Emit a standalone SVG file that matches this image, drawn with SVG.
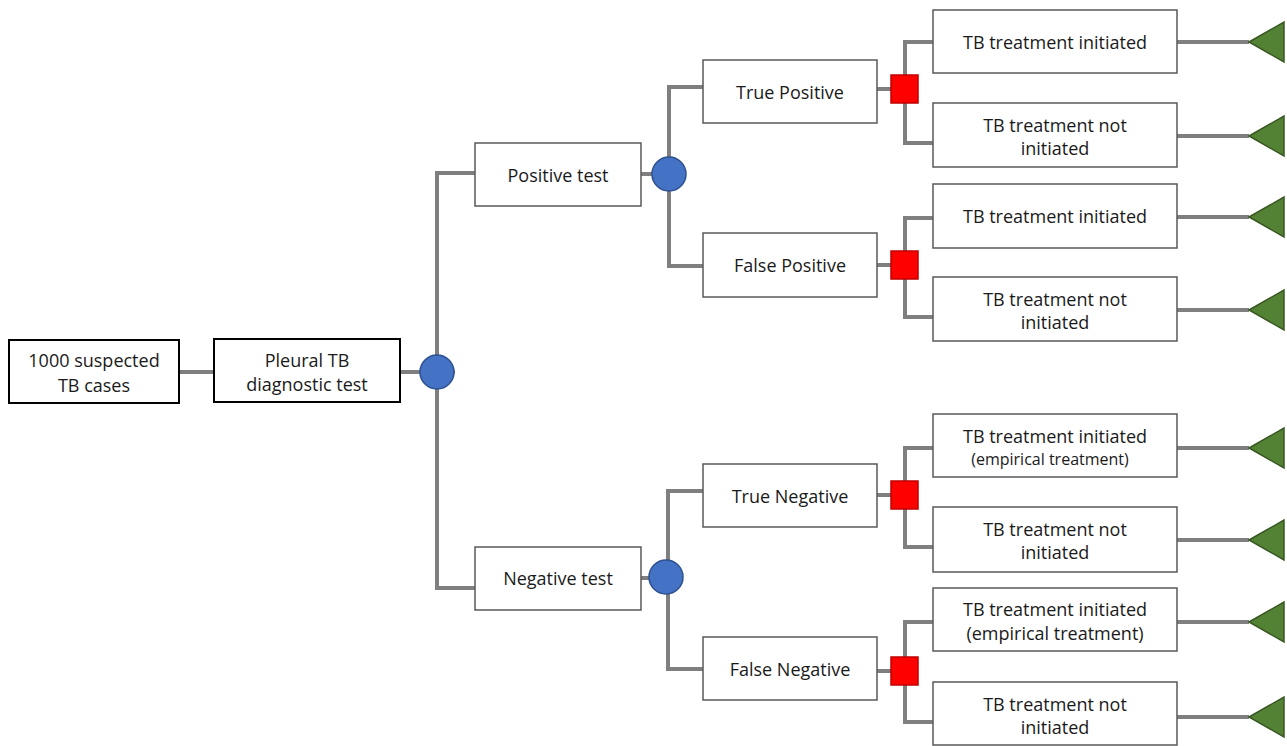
<svg xmlns="http://www.w3.org/2000/svg" width="1287" height="746" viewBox="0 0 1287 746">
<style>
.bx{fill:#fff;stroke:#595959;stroke-width:1.5}
.bk{fill:#fff;stroke:#000;stroke-width:2}
.c{fill:none;stroke:#7f7f7f;stroke-width:4}
.ch{fill:#4472c4;stroke:#2f528f;stroke-width:1.5}
.dc{fill:#ff0000;stroke:#c00000;stroke-width:1.5}
.tm{fill:#548235;stroke:#385723;stroke-width:1.5}
text{font-family:"Open Sans","Liberation Sans",sans-serif;font-size:18px;fill:#1a1a1a;text-anchor:middle}
.sm{font-size:16px}
</style>
<rect width="1287" height="746" fill="#fff"/>
<g id="connectors">
<path class="c" d="M179 372H214M400 372H455M475 173H437V588H475M641 174H669M703 87H669V266H703M641 578H668M703 491H668V669H703"/>
<path class="c" d="M877 89H905M933 42H905V143H933M877 265H905M933 218H905V317H933M877 495H905M933 448H905V547H933M877 671H905M933 622H905V722H933"/>
<path class="c" d="M1177 42H1249M1177 136H1249M1177 217H1249M1177 310H1249M1177 448H1249M1177 540H1249M1177 622H1249M1177 717H1249"/>
</g>
<g id="n-start"><rect class="bk" x="9" y="340" width="170" height="63"/><text x="94" y="367">1000 suspected</text><text x="94" y="392">TB cases</text></g>
<g id="n-test"><rect class="bk" x="214" y="339" width="186" height="63"/><text x="307" y="367">Pleural TB</text><text x="307" y="391">diagnostic test</text></g>
<g id="c-test"><circle class="ch" cx="437" cy="372" r="17"/></g>
<g id="n-pos"><rect class="bx" x="475" y="143" width="166" height="63"/><text x="558" y="182">Positive test</text></g>
<g id="c-pos"><circle class="ch" cx="669" cy="174" r="17"/></g>
<g id="n-neg"><rect class="bx" x="475" y="547" width="166" height="63"/><text x="558" y="585">Negative test</text></g>
<g id="c-neg"><circle class="ch" cx="666" cy="577" r="17"/></g>
<g id="n-tp"><rect class="bx" x="703" y="60" width="174" height="63"/><text x="790" y="99">True Positive</text></g>
<g id="n-fp"><rect class="bx" x="703" y="233" width="174" height="64"/><text x="790" y="272">False Positive</text></g>
<g id="n-tn"><rect class="bx" x="703" y="464" width="174" height="63"/><text x="790" y="503">True Negative</text></g>
<g id="n-fn"><rect class="bx" x="703" y="637" width="174" height="63"/><text x="790" y="676">False Negative</text></g>
<g id="d-tp"><rect class="dc" x="891" y="75" width="27" height="28"/></g>
<g id="d-fp"><rect class="dc" x="891" y="251" width="27" height="28"/></g>
<g id="d-tn"><rect class="dc" x="891" y="481" width="27" height="28"/></g>
<g id="d-fn"><rect class="dc" x="891" y="657" width="27" height="28"/></g>
<g id="o-tp-y"><rect class="bx" x="933" y="10" width="244" height="63"/><text x="1055" y="49">TB treatment initiated</text></g>
<g id="o-tp-n"><rect class="bx" x="933" y="103" width="244" height="64"/><text x="1055" y="132">TB treatment not</text><text x="1055" y="155">initiated</text></g>
<g id="o-fp-y"><rect class="bx" x="933" y="184" width="244" height="64"/><text x="1055" y="223">TB treatment initiated</text></g>
<g id="o-fp-n"><rect class="bx" x="933" y="277" width="244" height="64"/><text x="1055" y="306">TB treatment not</text><text x="1055" y="329">initiated</text></g>
<g id="o-tn-y"><rect class="bx" x="933" y="414" width="244" height="63"/><text x="1055" y="443">TB treatment initiated</text><text class="sm" x="1050" y="465">(empirical treatment)</text></g>
<g id="o-tn-n"><rect class="bx" x="933" y="507" width="244" height="65"/><text x="1055" y="536">TB treatment not</text><text x="1055" y="559">initiated</text></g>
<g id="o-fn-y"><rect class="bx" x="933" y="588" width="244" height="63"/><text x="1055" y="616">TB treatment initiated</text><text x="1055" y="640">(empirical treatment)</text></g>
<g id="o-fn-n"><rect class="bx" x="933" y="682" width="244" height="63"/><text x="1055" y="711">TB treatment not</text><text x="1055" y="734">initiated</text></g>
<g id="terminals">
<polygon class="tm" points="1249,42 1284,22 1284,62"/>
<polygon class="tm" points="1249,136 1284,116 1284,156"/>
<polygon class="tm" points="1249,217 1284,197 1284,237"/>
<polygon class="tm" points="1249,310 1284,290 1284,330"/>
<polygon class="tm" points="1249,448 1284,428 1284,468"/>
<polygon class="tm" points="1249,540 1284,520 1284,560"/>
<polygon class="tm" points="1249,622 1284,602 1284,642"/>
<polygon class="tm" points="1249,717 1284,697 1284,737"/>
</g>
</svg>
